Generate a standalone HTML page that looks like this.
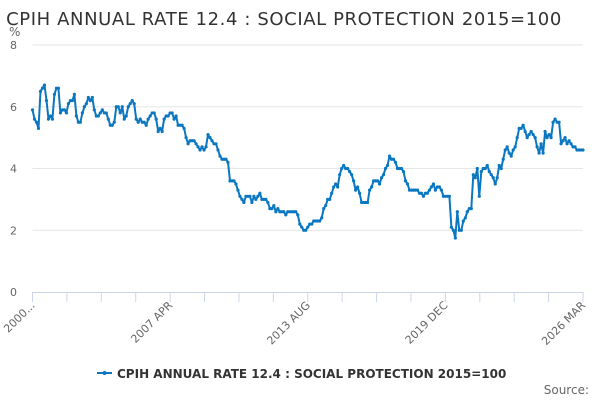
<!DOCTYPE html>
<html><head><meta charset="utf-8">
<style>
html,body{margin:0;padding:0;background:#fff;}
body{width:600px;height:400px;overflow:hidden;font-family:"DejaVu Sans","Liberation Sans",sans-serif;}
</style></head>
<body>
<svg id="chart" width="600" height="400" xmlns="http://www.w3.org/2000/svg">
  <rect width="600" height="400" fill="#fff"/>
  <text x="284" y="25" text-anchor="middle" font-size="18" fill="#333" letter-spacing="0.6">CPIH ANNUAL RATE 12.4 : SOCIAL PROTECTION 2015=100</text>
  <text x="9" y="36" font-size="12" fill="#666">%</text>
  <g id="grid"></g>
  <g id="xaxis"></g>
  <g id="series"></g>
  <g>
    <line x1="97" y1="373" x2="112" y2="373" stroke="#0a77c0" stroke-width="2"/>
    <circle cx="104.5" cy="373" r="2" fill="#0a77c0"/>
    <text x="117" y="378" font-size="12" font-weight="bold" fill="#333">CPIH ANNUAL RATE 12.4 : SOCIAL PROTECTION 2015=100</text>
  </g>
  <text x="589" y="394" text-anchor="end" font-size="12" fill="#666">Source:</text>
</svg>
<script>
const yTicks = [0, 2, 4, 6, 8];
const xTickLabels = ["2000...", "2007 APR", "2013 AUG", "2019 DEC", "2026 MAR"];
const rates = [5.9,5.6,5.5,5.3,6.5,6.6,6.7,6.2,5.6,5.7,5.6,6.4,6.6,6.6,5.8,5.9,5.9,5.8,6.1,6.2,6.2,6.4,5.7,5.5,5.5,5.8,6.0,6.1,6.3,6.2,6.3,5.9,5.7,5.7,5.8,5.9,5.8,5.8,5.6,5.4,5.4,5.5,6.0,6.0,5.8,6.0,5.6,5.7,6.0,6.1,6.2,6.1,5.6,5.5,5.6,5.5,5.5,5.4,5.6,5.7,5.8,5.8,5.6,5.2,5.3,5.2,5.6,5.7,5.7,5.8,5.8,5.6,5.7,5.4,5.4,5.4,5.3,5.0,4.8,4.9,4.9,4.9,4.8,4.7,4.6,4.7,4.6,4.7,5.1,5.0,4.9,4.8,4.8,4.6,4.4,4.3,4.3,4.3,4.2,3.6,3.6,3.6,3.5,3.3,3.1,3.0,2.9,3.1,3.1,3.1,2.9,3.1,3.0,3.1,3.2,3.0,3.0,3.0,2.9,2.7,2.7,2.8,2.6,2.7,2.6,2.6,2.6,2.5,2.6,2.6,2.6,2.6,2.6,2.5,2.2,2.1,2.0,2.0,2.1,2.2,2.2,2.3,2.3,2.3,2.3,2.4,2.7,2.8,3.0,3.0,3.2,3.4,3.5,3.4,3.8,4.0,4.1,4.0,4.0,3.9,3.8,3.6,3.3,3.4,3.2,2.9,2.9,2.9,2.9,3.3,3.4,3.6,3.6,3.6,3.5,3.7,3.8,4.0,4.1,4.4,4.3,4.3,4.2,4.0,4.0,4.0,3.9,3.6,3.5,3.3,3.3,3.3,3.3,3.3,3.2,3.2,3.1,3.2,3.2,3.3,3.4,3.5,3.3,3.4,3.4,3.3,3.1,3.1,3.1,3.1,2.1,2.0,1.75,2.6,2.0,2.0,2.3,2.4,2.6,2.7,2.7,3.8,3.7,4.0,3.1,3.9,4.0,4.0,4.1,3.9,3.8,3.7,3.5,3.7,4.1,4.0,4.3,4.6,4.7,4.5,4.4,4.6,4.7,5.0,5.3,5.3,5.4,5.2,5.0,5.1,5.2,5.1,5.0,4.7,4.5,4.8,4.5,5.2,5.0,5.1,5.0,5.5,5.6,5.5,5.5,4.8,4.9,5.0,4.8,4.9,4.8,4.7,4.7,4.6,4.6,4.6,4.6];

const NS = "http://www.w3.org/2000/svg";
const X0 = 32.5, X1 = 583, Y0 = 292, Y8 = 45;
function xScale(i){ return X0 + (X1 - X0) * i / (rates.length - 1); }
function yScale(v){ return Y0 - (Y0 - Y8) * v / 8; }
function mk(tag, attrs, parent){
  const e = document.createElementNS(NS, tag);
  for (const k in attrs) e.setAttribute(k, attrs[k]);
  parent.appendChild(e);
  return e;
}
const grid = document.getElementById('grid');
yTicks.forEach(t => {
  const y = yScale(t);
  if (t > 0) {
    const l = mk('line', {x1: X0, x2: X1, y1: y, y2: y, stroke: '#e6e6e6', 'stroke-width': 1}, grid);
    
    
  }
  const tx = mk('text', {x: 17, y: y + 4, 'text-anchor': 'end', 'font-size': 11, fill: '#666'}, grid);
  tx.textContent = t;
  
  
});
const xa = document.getElementById('xaxis');
const ax = mk('line', {x1: X0, x2: X1, y1: Y0 + 0.5, y2: Y0 + 0.5, stroke: '#ccd6eb', 'stroke-width': 1}, xa);


const nT = 16;
for (let k = 0; k <= nT; k++) {
  const x = X0 + (X1 - X0) * k / nT;
  const tk = mk('line', {x1: x, x2: x, y1: Y0, y2: Y0 + 10, stroke: '#ccd6eb', 'stroke-width': 1}, xa);
  
  
}
xTickLabels.forEach((lab, j) => {
  const x = X0 + (X1 - X0) * j / (xTickLabels.length - 1) + 3;
  const t = mk('text', {x: x, y: 306, 'text-anchor': 'end', 'font-size': 11, fill: '#666', transform: 'rotate(-45 ' + x + ' 306)'}, xa);
  t.textContent = lab;
  
  
});
const s = document.getElementById('series');
const pts = rates.map((v, i) => xScale(i).toFixed(1) + ',' + yScale(v).toFixed(1)).join(' ');
const pl = mk('polyline', {points: pts, fill: 'none', stroke: '#0a77c0', 'stroke-width': 2, 'stroke-linejoin': 'round'}, s);


rates.forEach((v, i) => {
  const c = mk('circle', {cx: xScale(i), cy: yScale(v), r: 1.6, fill: '#0a77c0'}, s);
  
  
});
</script>
</body></html>
